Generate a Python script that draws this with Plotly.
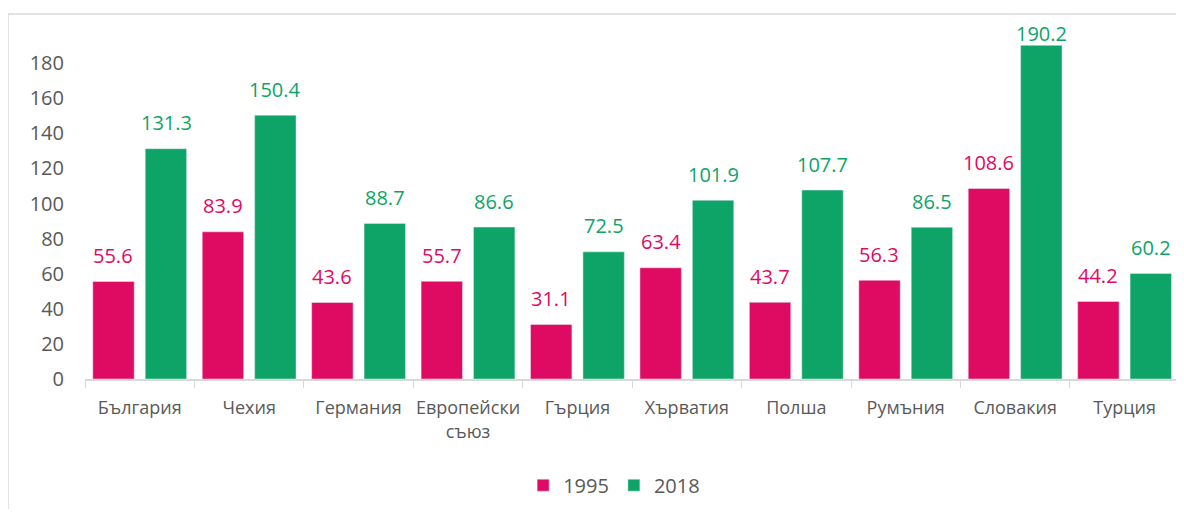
import plotly.graph_objects as go

categories = ["България", "Чехия", "Германия", "Европейски<br>съюз", "Гърция",
              "Хърватия", "Полша", "Румъния", "Словакия", "Турция"]
values_1995 = [55.6, 83.9, 43.6, 55.7, 31.1, 63.4, 43.7, 56.3, 108.6, 44.2]
values_2018 = [131.3, 150.4, 88.7, 86.6, 72.5, 101.9, 107.7, 86.5, 190.2, 60.2]
y_ticks = [0, 20, 40, 60, 80, 100, 120, 140, 160, 180]

C1995 = "#DF0A62"
C2018 = "#0EA468"
FONT = "Open Sans"

Y_MAX = 201.8
PLOT_H = 354  # plot area height in px
LABEL_GAP = 26  # px between bar top and label centre

fig = go.Figure()
fig.add_trace(go.Bar(name="1995", x=categories, y=values_1995, marker_color=C1995))
fig.add_trace(go.Bar(name="2018", x=categories, y=values_2018, marker_color=C2018))

# value labels above bars (kept inside the chart area like the original)
for vals, col, shift in ((values_1995, C1995, -26.3), (values_2018, C2018, 26.3)):
    for cat, v in zip(categories, vals):
        px_from_top = (Y_MAX - v) / Y_MAX * PLOT_H
        ys = max(min(LABEL_GAP, px_from_top - 8), 12)
        fig.add_annotation(x=cat, y=v, text=f"{v:.1f}", showarrow=False,
                           xref="x", yref="y", xshift=shift, yshift=ys,
                           yanchor="middle", xanchor="center",
                           font=dict(color=col, size=20, family=FONT))

fig.update_layout(
    width=1176, height=501,
    margin=dict(l=77, r=8, t=17, b=130, autoexpand=False),
    paper_bgcolor="white", plot_bgcolor="white",
    barmode="group", bargap=0.042, bargroupgap=0.21,
    font=dict(family=FONT, color="#595959", size=18),
    legend=dict(orientation="h", x=0.485, xanchor="center", y=-0.30, yanchor="middle",
                font=dict(size=20, color="#595959"), itemwidth=30, traceorder="normal"),
    showlegend=True,
)
fig.update_xaxes(range=[-0.5, 9.47], showline=True, linecolor="#D9D9D9", linewidth=1.5,
                 ticks="outside", tickson="boundaries", ticklen=7, tickcolor="#D9D9D9",
                 tickfont=dict(size=18, color="#595959"), showgrid=False, tickangle=0,
                 ticklabelstandoff=12, automargin=False)
fig.update_yaxes(range=[0, Y_MAX], tickvals=y_ticks, showgrid=False, showline=False,
                 zeroline=False, tickfont=dict(size=20, color="#595959"),
                 ticklabelstandoff=20, automargin=False)

fig.add_shape(type="rect", xref="paper", yref="paper", x0=-0.0706, x1=1.2,
              y0=-0.6, y1=1.031, line=dict(color="#D9D9D9", width=1.5),
              fillcolor="rgba(0,0,0,0)", layer="below")

fig.write_html("out.html")
